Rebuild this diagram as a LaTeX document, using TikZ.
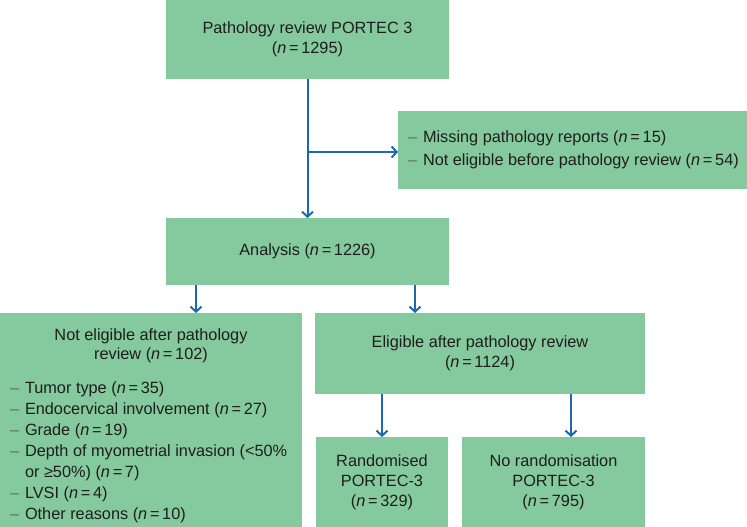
\documentclass[tikz,border=0pt]{standalone}
\usepackage{fontspec}
\setmainfont{Liberation Sans}
\usetikzlibrary{arrows.meta}
\definecolor{boxg}{RGB}{133,201,158}
\definecolor{arrb}{RGB}{27,106,176}
\definecolor{txt}{RGB}{30,30,30}
\definecolor{dashc}{RGB}{100,110,104}
\newcommand\nn[1]{\textit{n}\,=\,#1}
\newcommand\dsh{\makebox[15pt][l]{\textcolor{dashc}{–}}}
\newcommand\nodsh{\makebox[15pt][l]{\strut}}
\newcommand\litem[1]{\par\noindent\dsh#1}
\newcommand\lcont[1]{\par\noindent\nodsh#1}
\begin{document}
\begin{tikzpicture}[x=1pt,y=-1pt,
  box/.style={fill=boxg, draw=none, inner sep=0pt, outer sep=0pt, text=txt,
    font=\fontsize{16.3}{20}\selectfont, align=center},
  arr/.style={draw=arrb, line width=2pt, -{Straight Barb[length=5pt,width=11pt]}}]
\useasboundingbox (0,0) rectangle (747,527);
\node[box, minimum width=283pt, minimum height=79pt] (pr) at (307.5,39.5) {Pathology review PORTEC 3\\(\nn{1295})};
\node[box, minimum width=349pt, minimum height=78pt] (ex) at (572.5,150) {\begin{minipage}{329pt}\fontsize{16.3}{23}\selectfont\noindent\mbox{\dsh Missing pathology reports (\nn{15})}\par\noindent\mbox{\dsh Not eligible before pathology review (\nn{54})}\end{minipage}};
\node[box, minimum width=283pt, minimum height=67pt] (an) at (307.5,251.5) {Analysis (\nn{1226})};
\node[box, minimum width=302pt, minimum height=214pt] (ne) at (151,420) {\begin{minipage}{282pt}\vspace*{12pt}\fontsize{16.3}{19}\selectfont\centering Not eligible after pathology\\review (\nn{102})\par\vspace{13pt}\raggedright\fontsize{16.3}{21}\selectfont
\litem{Tumor type (\nn{35})}
\litem{Endocervical involvement (\nn{27})}
\litem{Grade (\nn{19})}
\litem{Depth of myometrial invasion (<50\%}
\lcont{or ≥50\%) (\nn{7})}
\litem{LVSI (\nn{4})}
\litem{Other reasons (\nn{10})}\par
\end{minipage}};
\node[box, minimum width=330pt, minimum height=81pt] (el) at (480,353.5) {Eligible after pathology review\\(\nn{1124})};
\node[box, minimum width=132pt, minimum height=90pt] (ra) at (382,482) {Randomised\\PORTEC-3\\(\nn{329})};
\node[box, minimum width=183pt, minimum height=90pt] (nr) at (553.5,482) {No randomisation\\PORTEC-3\\(\nn{795})};
\coordinate (br) at (307.5,152);
\coordinate (xl) at (196,0);
\coordinate (xr) at (415,0);
\coordinate (xn) at (571,0);
\draw[arr] (pr.south) -- (an.north);
\draw[arr] (br) -- (br -| ex.west);
\draw[arr] (an.south -| xl) -- (ne.north -| xl);
\draw[arr] (an.south -| xr) -- (el.north -| xr);
\draw[arr] (el.south -| ra.north) -- (ra.north);
\draw[arr] (el.south -| xn) -- (nr.north -| xn);
\end{tikzpicture}
\end{document}
